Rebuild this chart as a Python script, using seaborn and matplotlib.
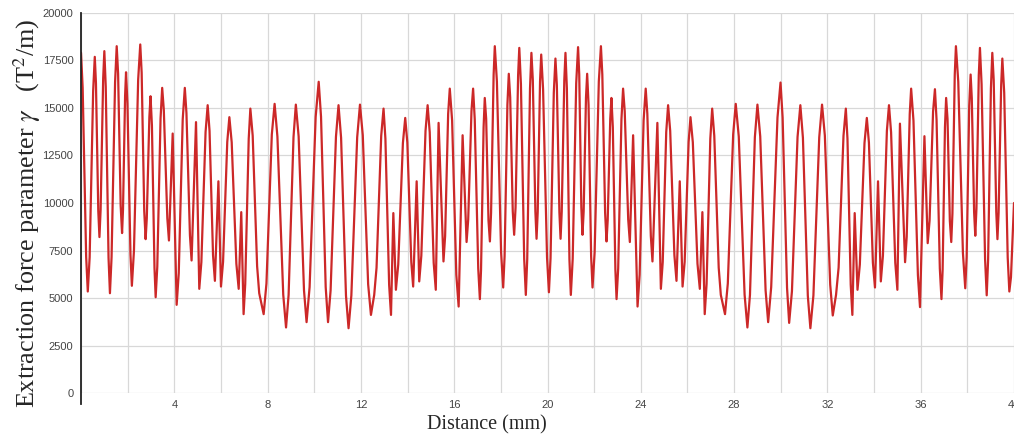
import numpy as np
import pandas as pd
import seaborn as sns
import matplotlib.pyplot as plt

# Peaks, troughs and shoulders of the curve
distance_mm = [
    0.00, 0.29, 0.59, 0.79, 1.00, 1.24, 1.53, 1.76, 1.93, 2.18,
    2.54, 2.77, 2.98, 3.20, 3.48, 3.77, 3.93, 4.10, 4.45, 4.74,
    4.93, 5.07, 5.43, 5.74, 5.89, 6.00, 6.36, 6.76, 6.87, 6.97,
    7.26, 7.64, 7.83, 8.30, 8.79, 9.21, 9.67, 10.19, 10.59, 11.04,
    11.47, 11.96, 12.43, 12.57, 12.97, 13.29, 13.39, 13.50, 13.90, 14.24,
    14.39, 14.50, 14.86, 15.21, 15.33, 15.54, 15.81, 16.19, 16.36, 16.53,
    16.81, 17.10, 17.31, 17.53, 17.74, 18.10, 18.34, 18.57, 18.79, 19.07,
    19.31, 19.53, 19.73, 20.06, 20.34, 20.56, 20.77, 21.00, 21.31, 21.50,
    21.70, 21.93, 22.29, 22.53, 22.74, 22.96, 23.24, 23.53, 23.67, 23.86,
    24.21, 24.50, 24.71, 24.86, 25.17, 25.53, 25.67, 25.79, 26.13, 26.53,
    26.64, 26.74, 27.06, 27.43, 27.61, 28.07, 28.57, 29.00, 29.46, 29.99,
    30.36, 30.84, 31.27, 31.77, 32.23, 32.37, 32.79, 33.07, 33.17, 33.29,
    33.69, 34.04, 34.17, 34.29, 34.64, 35.00, 35.11, 35.33, 35.59, 35.97,
    36.16, 36.30, 36.61, 36.89, 37.09, 37.31, 37.51, 37.91, 38.14, 38.34,
    38.54, 38.83, 39.07, 39.29, 39.50, 39.80, 40.00,
]
gamma = [
    17900, 5350, 17680, 8210, 17980, 5260, 18240, 8420, 16870, 5650,
    18330, 8100, 15610, 5050, 16050, 8030, 13650, 4650, 16050, 6980,
    14250, 5490, 15140, 5910, 11140, 5610, 14510, 5490, 9520, 4160,
    14960, 5260, 4160, 15210, 3460, 15170, 3740, 16370, 3740, 15140,
    3420, 15170, 4120, 5170, 14960, 4120, 9470, 5440, 14470, 5610,
    11140, 5880, 15140, 5440, 14210, 6930, 16010, 4560, 13560, 7950,
    16010, 4950, 15520, 7980, 18240, 5560, 16790, 8330, 18150, 5170,
    17890, 8120, 17800, 5310, 17590, 8120, 17890, 5170, 18190, 8330,
    16790, 5560, 18240, 7980, 15520, 4950, 16010, 7950, 13560, 4560,
    16010, 6930, 14210, 5490, 15140, 5910, 11140, 5610, 14510, 5490,
    9520, 4160, 14960, 5170, 4160, 15210, 3460, 15170, 3740, 16330,
    3700, 15140, 3420, 15170, 4090, 5170, 14960, 4120, 9470, 5440,
    14470, 5560, 11140, 5880, 15140, 5440, 14170, 6890, 16010, 4530,
    13510, 7890, 15980, 4950, 15520, 7950, 18240, 5520, 16750, 8280,
    18150, 5150, 17890, 8100, 17590, 5350, 10000,
]

# Points on the flanks near each rounded peak / trough
flank_distance_mm = [
    0.07, 0.22, 0.37, 0.52, 0.64, 0.74, 0.84, 0.95, 1.06, 1.18,
    1.31, 1.46, 1.59, 1.70, 1.80, 1.89, 1.99, 2.12, 2.27, 2.45,
    2.60, 2.71, 2.82, 2.93, 3.04, 3.15, 3.27, 3.41, 3.55, 3.70,
    4.19, 4.36, 4.52, 4.67, 5.16, 5.34, 5.51, 5.66, 6.09, 6.27,
    6.46, 6.66, 7.04, 7.19, 7.36, 7.55, 7.95, 8.18, 8.42, 8.67,
    8.90, 9.11, 9.33, 9.56, 9.80, 10.06, 10.29, 10.49, 10.70, 10.93,
    11.15, 11.36, 11.59, 11.84, 12.08, 12.31, 12.67, 12.87, 13.05, 13.21,
    13.60, 13.80, 13.99, 14.16, 14.59, 14.77, 14.95, 15.12, 15.61, 15.74,
    15.91, 16.09, 16.60, 16.74, 16.88, 17.03,
    17.15, 17.26, 17.37, 17.47, 17.58, 17.69, 17.83, 18.01, 18.16, 18.28,
    18.40, 18.51, 18.63, 18.74, 18.86, 19.00, 19.13, 19.25, 19.37, 19.48,
    19.58, 19.68, 19.81, 19.98, 20.13, 20.27, 20.40, 20.51, 20.61, 20.72,
    20.83, 20.94, 21.08, 21.23, 21.36, 21.45, 21.55, 21.65, 21.76, 21.87,
    22.02, 22.20, 22.35, 22.47, 22.58, 22.69, 22.80, 22.91, 23.03, 23.17,
    23.31, 23.46, 23.95, 24.12, 24.28, 24.43, 24.94, 25.09, 25.26, 25.44,
    25.88, 26.05, 26.23, 26.43, 26.82, 26.98, 27.15, 27.34, 27.73, 27.96,
    28.20, 28.45, 28.68, 28.89, 29.12, 29.35, 29.59, 29.86, 30.08, 30.27,
    30.48, 30.72, 30.95, 31.16, 31.40, 31.65, 31.89, 32.12, 32.48, 32.69,
    32.86, 33.00, 33.39, 33.59, 33.78, 33.95, 34.38, 34.55, 34.73, 34.91,
    35.40, 35.53, 35.69, 35.88, 36.38, 36.53, 36.68, 36.82, 36.94, 37.04,
    37.15, 37.25, 37.36, 37.46, 37.61, 37.81, 37.97, 38.08, 38.19, 38.29,
    38.39, 38.49, 38.61, 38.76, 38.89, 39.01, 39.13, 39.24, 39.34, 39.45,
    39.58, 39.73, 39.87,
]
flank_gamma = [
    16070, 7180, 7150, 15880, 16300, 9590, 9640, 16550, 16120, 7120,
    7160, 16340, 16800, 9860, 9650, 15640, 15230, 7290, 7500, 16480,
    16840, 9590, 9200, 14510, 14070, 6590, 6660, 14440, 14880, 9200,
    6310, 14390, 14730, 8300, 6900, 13730, 13790, 7260, 6910, 13210,
    13190, 6810, 5740, 13380, 13540, 6680, 5770, 13600, 13490, 5180,
    5170, 13460, 13500, 5410, 5580, 14530, 14530, 5580, 5400, 13480,
    13430, 5130, 5140, 13450, 13560, 5730, 6600, 13530, 13380, 5700,
    6760, 13150, 13180, 6900, 7230, 13790, 13720, 6860, 8260, 14680,
    14340, 6230, 9130, 14830, 14400, 6560,
    6490, 13980, 14420, 9080, 9480, 16740, 16390, 7410, 7200, 15150,
    15550, 9570, 9760, 16720, 16250, 7070, 7030, 16030, 16460, 9550,
    9530, 16390, 15980, 7130, 7100, 15800, 16210, 9500, 9550, 16460,
    16030, 7030, 7070, 16290, 16750, 9770, 9570, 15550, 15150, 7200,
    7410, 16390, 16740, 9480, 9080, 14420, 13980, 6490, 6560, 14400,
    14830, 9130, 6230, 14340, 14680, 8260, 6900, 13730, 13790, 7260,
    6910, 13210, 13190, 6810, 5740, 13380, 13530, 6600, 5770, 13600,
    13490, 5180, 5170, 13460, 13500, 5410, 5580, 14490, 14490, 5540,
    5370, 13470, 13430, 5130, 5140, 13450, 13550, 5710, 6600, 13530,
    13380, 5700, 6760, 13150, 13170, 6860, 7230, 13790, 13720, 6860,
    8220, 14680, 14330, 6210, 9070, 14800, 14370, 6560, 6490, 13980,
    14410, 9060, 9450, 16740, 16380, 7380, 7160, 15110, 15510, 9520,
    9720, 16710, 16250, 7050, 7010, 16030, 16460, 9530, 9490, 16200,
    15800, 7140, 6100,
]

x_ticks = np.arange(0, 41, 2)
x_labels = ["" if (t == 0 or t % 4) else str(t) for t in x_ticks]
y_ticks = np.arange(0, 20001, 2500)

df = pd.concat([
    pd.DataFrame({"distance": distance_mm, "gamma": gamma}),
    pd.DataFrame({"distance": flank_distance_mm, "gamma": flank_gamma}),
]).sort_values("distance").reset_index(drop=True)

sns.set_style("white")
plt.rcParams["mathtext.fontset"] = "stix"

fig = plt.figure(figsize=(10.14, 4.36), dpi=100)
ax = fig.add_axes([0.0799, 0.0979, 0.9201, 0.873])

sns.lineplot(data=df, x="distance", y="gamma", ax=ax, sort=False, estimator=None,
             color="#cc2828", linewidth=1.6, solid_joinstyle="round")

ax.set_xlim(0, 40)
ax.set_ylim(0, 20000)
ax.set_xticks(x_ticks)
ax.set_xticklabels(x_labels)
ax.set_yticks(y_ticks)
ax.set_yticklabels([str(v) for v in y_ticks])
ax.grid(True, color="#d8d8d8", linewidth=0.9)
ax.set_axisbelow(True)

for s in ["top", "right", "bottom"]:
    ax.spines[s].set_visible(False)
ax.spines["left"].set_color("#222222")
ax.spines["left"].set_linewidth(1.3)
ax.spines["left"].set_bounds(-550, 20000)

ax.tick_params(axis="y", length=4, width=0.9, color="#d0d0d0", pad=1.5,
               labelsize=8, labelcolor="#444444")
ax.tick_params(axis="x", length=0, pad=5, labelsize=8, labelcolor="#444444")
for lab in ax.get_xticklabels() + ax.get_yticklabels():
    lab.set_fontfamily("Liberation Sans")

ax.set_xlabel("")
ax.set_ylabel("")
fig.text(487 / 1014, 1 - 425 / 436, "Distance (mm)", ha="center", va="center",
         fontsize=14.5, family="Liberation Serif")
fig.text(27 / 1014, 1 - 213 / 436, r"Extraction force parameter $\gamma$   (T$^2$/m)",
         rotation=90, ha="center", va="center", fontsize=18.8, family="Liberation Serif")

fig.savefig("out.png", dpi=100)
